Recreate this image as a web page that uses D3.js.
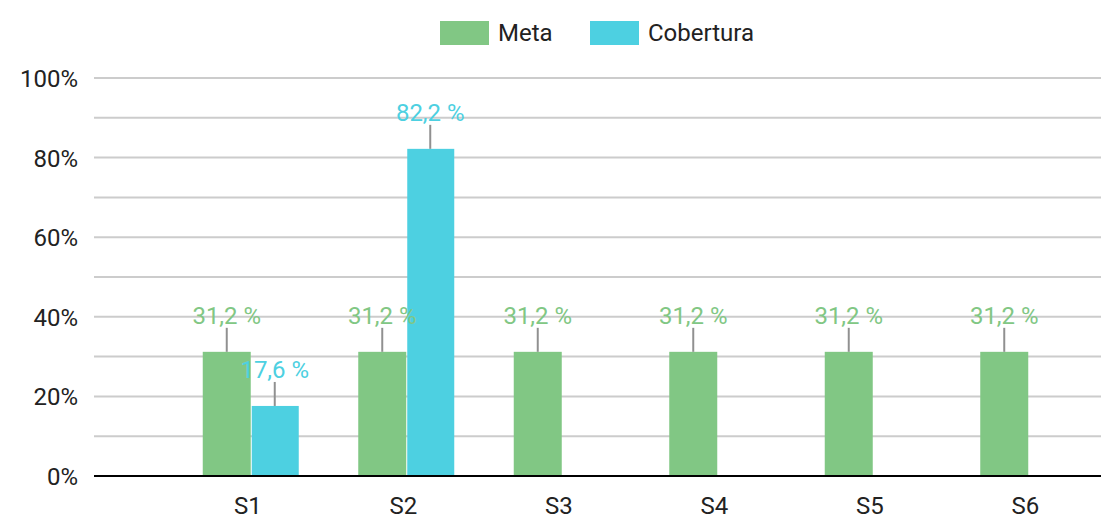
<!DOCTYPE html>
<html>
<head>
<meta charset="utf-8">
<script src="https://cdn.jsdelivr.net/npm/d3@7"></script>
<style>
  body { margin: 0; background: #fff; }
  text { font-family: Roboto, "Noto Sans", sans-serif; }
</style>
</head>
<body>
<div id="chart"></div>
<script>
var categories = ["S1", "S2", "S3", "S4", "S5", "S6"];
var meta = [31.2, 31.2, 31.2, 31.2, 31.2, 31.2];
var cobertura = [17.6, 82.2, null, null, null, null];
var yTicks = [0, 20, 40, 60, 80, 100];
var seriesNames = ["Meta", "Cobertura"];
var colors = ["#81c784", "#4dd0e1"];

var w = 1101;
var h = 520;
var left = 94;
var barW = 48;

var svg = d3.select("#chart").append("svg")
  .attr("width", w)
  .attr("height", h);

var x = d3.scaleBand().domain(categories).range([173, 1106]);
var y = d3.scaleLinear().domain([0, 100]).range([476, 78]);

// grid every 10%
var grid = svg.append("g");
grid.selectAll("line")
  .data(d3.range(10, 101, 10))
  .enter().append("line")
  .attr("x1", left).attr("x2", w)
  .attr("y1", d => y(d)).attr("y2", d => y(d))
  .attr("stroke", "#cccccc")
  .attr("stroke-width", 2);

// y labels
svg.append("g").selectAll("text")
  .data(yTicks)
  .enter().append("text")
  .attr("x", 78)
  .attr("y", d => y(d) + 9)
  .attr("text-anchor", "end")
  .attr("font-size", 24)
  .attr("fill", "#222")
  .text(d => d + "%");

// bars
var groups = [meta, cobertura];
var bars = svg.append("g");
groups.forEach(function (vals, s) {
  var data = categories.map((c, i) => ({ c: c, v: vals[i] })).filter(d => d.v != null);
  var xOff = s == 0 ? -barW : 1;
  bars.selectAll(".b" + s)
    .data(data)
    .enter().append("rect")
    .attr("class", "b" + s)
    .attr("x", d => x(d.c) + x.bandwidth() / 2 + xOff)
    .attr("width", barW - (s == 0 ? 0 : 1))
    .attr("y", d => y(d.v))
    .attr("height", d => y(0) - y(d.v))
    .attr("fill", colors[s]);
});

// value labels with leader lines
groups.forEach(function (vals, s) {
  var data = categories.map((c, i) => ({ c: c, v: vals[i] })).filter(d => d.v != null);
  var cx = d => x(d.c) + x.bandwidth() / 2 + (s == 0 ? -barW / 2 : barW / 2);
  var g = svg.append("g");
  g.selectAll("line")
    .data(data)
    .enter().append("line")
    .attr("x1", cx).attr("x2", cx)
    .attr("y1", d => y(d.v)).attr("y2", d => y(d.v) - 24)
    .attr("stroke", "#909090")
    .attr("stroke-width", 2);
  g.selectAll("text")
    .data(data)
    .enter().append("text")
    .attr("x", cx)
    .attr("y", d => y(d.v) - 28)
    .attr("text-anchor", "middle")
    .attr("font-size", 24)
    .attr("fill", colors[s])
    .text(d => d.v.toFixed(1).replace(".", ",") + " %");
});

// baseline
svg.append("line")
  .attr("x1", left).attr("x2", w)
  .attr("y1", y(0)).attr("y2", y(0))
  .attr("stroke", "#000")
  .attr("stroke-width", 2);

// x labels
svg.append("g").selectAll("text")
  .data(categories)
  .enter().append("text")
  .attr("x", d => x(d) + x.bandwidth() / 2 - 3)
  .attr("y", 514)
  .attr("text-anchor", "middle")
  .attr("font-size", 24)
  .attr("fill", "#222")
  .text(d => d);

// legend
var legX = [440, 590];
var leg = svg.append("g");
seriesNames.forEach(function (n, i) {
  leg.append("rect")
    .attr("x", legX[i]).attr("y", 21)
    .attr("width", 49).attr("height", 24)
    .attr("fill", colors[i]);
  leg.append("text")
    .attr("x", legX[i] + 58).attr("y", 41)
    .attr("font-size", 24)
    .attr("fill", "#222")
    .text(n);
});
</script>
</body>
</html>
